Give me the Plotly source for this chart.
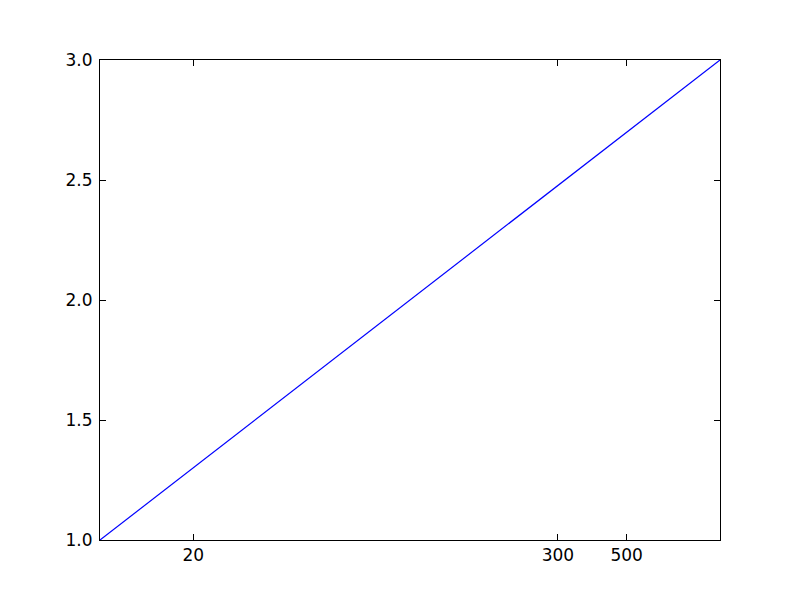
import plotly.graph_objects as go

x_values = [10, 100, 1000]
y_values = [1, 2, 3]
x_tick_vals = [20, 300, 500]
x_tick_text = ["20", "300", "500"]
y_tick_vals = [1.0, 1.5, 2.0, 2.5, 3.0]
y_tick_text = ["1.0", "1.5", "2.0", "2.5", "3.0"]

fig = go.Figure()
fig.add_trace(go.Scatter(x=x_values, y=y_values, mode="lines",
                         line=dict(color="#0000ff", width=1.2), showlegend=False))

fig.update_layout(
    width=800, height=600,
    margin=dict(l=92, r=88, t=52, b=68),
    paper_bgcolor="white", plot_bgcolor="white",
    font=dict(family="DejaVu Sans", size=17, color="black"),
)
fig.update_xaxes(type="log", range=[1, 3], tickvals=x_tick_vals, ticktext=x_tick_text,
                 ticks="inside", ticklen=6, tickwidth=1, tickcolor="black",
                 showline=True, linecolor="black", linewidth=1, mirror="ticks",
                 showgrid=False, zeroline=False, ticklabelstandoff=0)
fig.update_yaxes(range=[1, 3], tickvals=y_tick_vals, ticktext=y_tick_text,
                 ticks="inside", ticklen=6, tickwidth=1, tickcolor="black",
                 showline=True, linecolor="black", linewidth=1, mirror="ticks",
                 showgrid=False, zeroline=False, ticklabelstandoff=3)

fig.write_html("out.html")
